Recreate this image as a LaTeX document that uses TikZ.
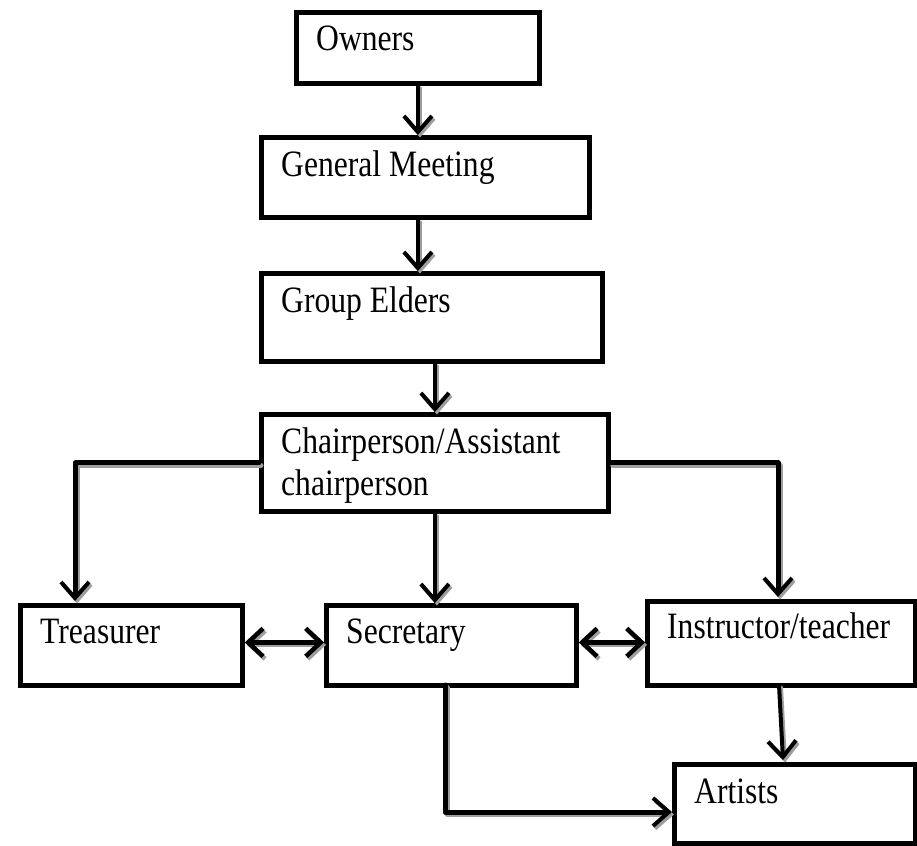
\documentclass[tikz,border=0pt]{standalone}
\usepackage{fontspec}
\setmainfont{Liberation Serif}
\usetikzlibrary{arrows.meta,calc}
\newcommand\mycdraw[2]{%
  \draw[#1, draw=black!38, transform canvas={shift={(2pt,-2.5pt)}}] #2;
  \draw[#1] #2;}
\newcommand\mytxt[1]{\scalebox{1.02}[1.2]{#1}}
\begin{document}
\begin{tikzpicture}[x=1pt,y=-1pt,
  box/.style={draw=black, line width=4.8pt, rectangle, inner sep=0pt, anchor=north west},
  txt/.style={anchor=base west, inner sep=0pt, font=\fontsize{31}{31}\selectfont},
  conn/.style={line width=4pt, line cap=round, line join=round,
    -{Straight Barb[length=16pt,width=28pt,line width=4pt]}},
  dconn/.style={line width=5pt, line cap=round, line join=round,
    {Straight Barb[length=15pt,width=28pt,line width=4.5pt]}-{Straight Barb[length=15pt,width=28pt,line width=4.5pt]}}
]
\useasboundingbox (0,0) rectangle (917,845);

% boxes
\node[box, minimum width=243pt, minimum height=71pt] (own) at (294,10) {};
\node[box, minimum width=328pt, minimum height=80pt] (gm) at (259,135) {};
\node[box, minimum width=341pt, minimum height=88pt] (ge) at (259,271) {};
\node[box, minimum width=347pt, minimum height=97pt] (ch) at (259,412) {};
\node[box, minimum width=222pt, minimum height=80pt] (tre) at (18,603) {};
\node[box, minimum width=250pt, minimum height=80pt] (sec) at (324,603) {};
\node[box, minimum width=268pt, minimum height=84pt] (ins) at (645,599) {};
\node[box, minimum width=241pt, minimum height=79pt] (art) at (672,762) {};

% texts
\node[txt] (ownT) at ([shift={(22,41)}]own.north west) {\mytxt{Owners}};
\node[txt] (gmT) at ([shift={(22,41)}]gm.north west) {\mytxt{General Meeting}};
\node[txt] (geT) at ([shift={(22,41)}]ge.north west) {\mytxt{Group Elders}};
\node[txt] (chT1) at ([shift={(22,41)}]ch.north west) {\mytxt{Chairperson/Assistant}};
\node[txt] (chT2) at ([shift={(22,83)}]ch.north west) {\mytxt{chairperson}};
\node[txt] (treT) at ([shift={(22,40)}]tre.north west) {\mytxt{Treasurer}};
\node[txt] (secT) at ([shift={(22,40)}]sec.north west) {\mytxt{Secretary}};
\node[txt] (insT) at ([shift={(22,39)}]ins.north west) {\mytxt{Instructor/teacher}};
\node[txt] (artT) at ([shift={(22,41)}]art.north west) {\mytxt{Artists}};

% free ends
\coordinate (tcol) at (75,601);
\coordinate (icol) at (778,597);
\coordinate (iout) at (779,685);
\coordinate (ain) at (783,760);
\coordinate (sout) at (445,685);
\coordinate (sbend) at (445,812);

% connectors
\mycdraw{conn}{(own.south) -- (own.south |- gm.north)}
\mycdraw{conn}{(own.south |- gm.south) -- (own.south |- ge.north)}
\mycdraw{conn}{(ch.north |- ge.south) -- (ch.north)}
\mycdraw{conn}{(ch.south) -- (ch.south |- sec.north)}
\mycdraw{conn, line width=5pt}{(ch.west) -| (tcol)}
\mycdraw{conn, line width=5pt}{(ch.east) -| (icol)}
\mycdraw{dconn}{([yshift=3pt]tre.east) -- ([yshift=3pt]tre.east -| sec.west)}
\mycdraw{dconn}{([yshift=3pt]sec.east) -- ([yshift=3pt]sec.east -| ins.west)}
\mycdraw{conn}{(iout) -- (ain)}
\mycdraw{conn, line width=5pt}{(sout) -- (sbend) -- (sbend -| art.west)}
\end{tikzpicture}
\end{document}
